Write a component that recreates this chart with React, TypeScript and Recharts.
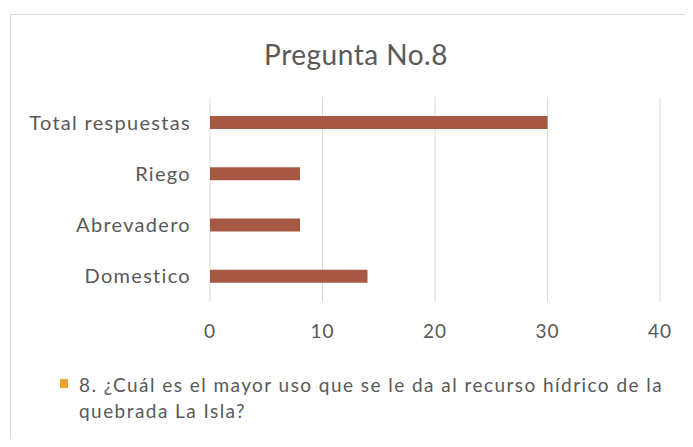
import { Bar, BarChart, CartesianGrid, Legend, XAxis, YAxis } from "recharts";

const categories = ["Total respuestas", "Riego", "Abrevadero", "Domestico"];
const counts = [30, 8, 8, 14];
const xTicks = [0, 10, 20, 30, 40];
const seriesName =
  "8. ¿Cuál es el mayor uso que se le da al recurso hídrico de la quebrada La Isla?";

const data = categories.map((name, i) => ({ name, value: counts[i] }));

const FONT = "Lato, 'Open Sans', sans-serif";
const GRAY = "#595959";

function LegendContent() {
  return (
    <div style={{ display: "flex", alignItems: "flex-start", fontFamily: FONT }}>
      <span
        style={{
          width: 8,
          height: 9,
          background: "#EDA22E",
          marginTop: 7,
          marginRight: 11,
          flexShrink: 0,
        }}
      />
      <span
        style={{
          fontSize: 19,
          lineHeight: "26px",
          letterSpacing: 1.45,
          color: GRAY,
          width: 605,
        }}
      >
        {seriesName}
      </span>
    </div>
  );
}

export default function App() {
  return (
    <div
      style={{
        position: "relative",
        width: 693,
        height: 447,
        margin: -8,
        overflow: "hidden",
        background: "#fff",
      }}
    >
      <div
        style={{
          position: "absolute",
          left: 10,
          top: 14,
          width: 700,
          height: 460,
          border: "1px solid #d9d9d9",
        }}
      />
      <div
        style={{
          position: "absolute",
          top: 37,
          left: 0,
          width: 712,
          textAlign: "center",
          fontFamily: FONT,
          fontSize: 28,
          letterSpacing: 0.5,
          color: GRAY,
        }}
      >
        Pregunta No.8
      </div>
      <BarChart
        width={693}
        height={447}
        data={data}
        layout="vertical"
        margin={{ top: 97, right: 33, bottom: 0, left: 0 }}
        style={{ position: "absolute", left: 0, top: 0 }}
      >
        <CartesianGrid stroke="#d9d9d9" horizontal={false} />
        <XAxis
          type="number"
          domain={[0, 40]}
          ticks={xTicks}
          axisLine={false}
          tickLine={false}
          tickSize={0}
          tickMargin={23}
          height={145}
          tick={{ fill: GRAY, fontSize: 19, fontFamily: FONT, letterSpacing: 1 }}
        />
        <YAxis
          type="category"
          dataKey="name"
          width={210}
          axisLine={false}
          tickLine={false}
          tickSize={0}
          tickMargin={19}
          tick={{ fill: GRAY, fontSize: 20, fontFamily: FONT, letterSpacing: 1.3 }}
        />
        <Legend
          layout="vertical"
          align="center"
          verticalAlign="middle"
          wrapperStyle={{ left: 60, top: 372, width: 630 }}
          content={<LegendContent />}
        />
        <Bar
          dataKey="value"
          name={seriesName}
          fill="#A65842"
          barSize={13}
          isAnimationActive={false}
        />
      </BarChart>
    </div>
  );
}
